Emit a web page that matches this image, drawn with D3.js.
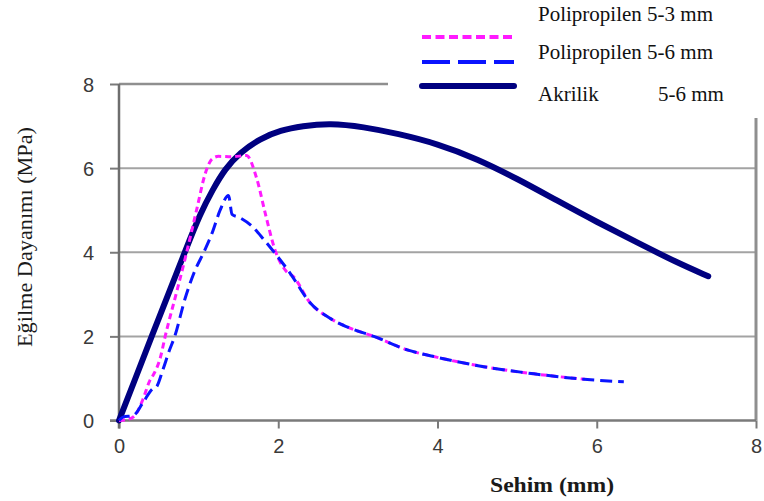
<!DOCTYPE html>
<html>
<head>
<meta charset="utf-8">
<script src="https://cdn.jsdelivr.net/npm/d3@7"></script>
<style>
  html, body { margin: 0; padding: 0; background: #fff; }
  svg { display: block; }
</style>
</head>
<body>
<svg id="chart" width="764" height="501"></svg>
<script>
// Flexural strength vs. deflection for three fibre-reinforced mixes
const xTicks = [0, 2, 4, 6, 8];
const yTicks = [0, 2, 4, 6, 8];
const xTitle = "Sehim (mm)";
const yTitle = "Eğilme Dayanımı (MPa)";

const seriesNames = ["Polipropilen 5-3 mm", "Polipropilen 5-6 mm", "Akrilik"];

// Polipropilen 5-3 mm  [deflection mm, strength MPa]
const pp53 = [
  [0, 0], [0.1, 0.02], [0.2, 0.12], [0.3, 0.5], [0.39, 0.96], [0.43, 1.08],
  [0.52, 1.5], [0.58, 2.0], [0.73, 3.1], [0.85, 4.0], [0.98, 5.05],
  [1.08, 5.85], [1.17, 6.22], [1.25, 6.28], [1.42, 6.27], [1.6, 6.3],
  [1.73, 5.75], [1.84, 4.9], [1.96, 4.05], [2.1, 3.55], [2.19, 3.42],
  [2.4, 2.8], [2.65, 2.43], [2.91, 2.19], [3.2, 2.0], [3.62, 1.68],
  [4.0, 1.5], [4.58, 1.28], [5.21, 1.11], [5.85, 0.98]
];

// Polipropilen 5-6 mm
const pp56 = [
  [0, 0], [0.05, 0.08], [0.18, 0.12], [0.3, 0.42], [0.42, 0.75], [0.47, 0.8],
  [0.55, 1.2], [0.63, 1.65], [0.7, 2.0], [0.83, 2.9], [0.94, 3.5],
  [1.08, 4.06], [1.17, 4.46], [1.27, 5.0], [1.375, 5.35], [1.42, 4.9],
  [1.52, 4.82], [1.67, 4.62], [1.82, 4.3], [1.94, 4.02], [2.15, 3.5],
  [2.4, 2.8], [2.65, 2.43], [2.91, 2.19], [3.2, 2.0], [3.62, 1.68],
  [4.0, 1.5], [4.58, 1.28], [5.21, 1.11], [5.84, 0.98], [6.34, 0.92]
];

// Akrilik 5-6 mm
const akrilik = [
  [0, 0], [0.2, 0.97], [0.41, 2.0], [0.66, 3.2], [0.83, 4.02], [1.02, 4.92],
  [1.18, 5.5], [1.33, 5.98], [1.52, 6.37], [1.77, 6.7], [2.03, 6.9],
  [2.3, 7.0], [2.65, 7.07], [3.07, 6.98], [3.5, 6.82], [4.0, 6.58],
  [4.5, 6.22], [5.0, 5.75], [5.5, 5.23], [6.0, 4.72], [6.5, 4.24],
  [7.0, 3.76], [7.4, 3.43]
];

const svg = d3.select("#chart");

const x = d3.scaleLinear().domain([0, 8]).range([119, 756]);
const y = d3.scaleLinear().domain([0, 8]).range([420.5, 84]);

// horizontal gridlines
svg.append("g")
  .selectAll("line")
  .data([2, 4, 6])
  .join("line")
  .attr("x1", x(0)).attr("x2", x(8))
  .attr("y1", d => y(d)).attr("y2", d => y(d))
  .attr("stroke", "#a3a3a3").attr("stroke-width", 2);

// top frame (partly hidden behind the legend) and right frame
svg.append("line")
  .attr("x1", x(0)).attr("x2", 388)
  .attr("y1", y(8)).attr("y2", y(8))
  .attr("stroke", "#8f8f8f").attr("stroke-width", 2.5);
svg.append("line")
  .attr("x1", x(8)).attr("x2", x(8))
  .attr("y1", 118).attr("y2", y(0))
  .attr("stroke", "#8f8f8f").attr("stroke-width", 3);

// axes
const xAxis = d3.axisBottom(x).tickValues(xTicks).tickSize(8).tickPadding(10).tickFormat(d3.format("d"));
const yAxis = d3.axisLeft(y).tickValues(yTicks).tickSize(9).tickPadding(16).tickFormat(d3.format("d"));

const gx = svg.append("g").attr("transform", `translate(0,${y(0)})`).call(xAxis);
const gy = svg.append("g").attr("transform", `translate(${x(0)},0)`).call(yAxis);

[gx, gy].forEach(g => {
  g.select(".domain").remove();
  g.selectAll(".tick line").attr("stroke", "#7a7a7a").attr("stroke-width", 2);
  g.selectAll(".tick text")
    .attr("fill", "#3a3a3a")
    .style("font-family", "'Liberation Sans', Arial, sans-serif")
    .style("font-size", "20px");
});
gy.selectAll(".tick text").attr("dy", "0.36em");

// axis lines
svg.append("line")
  .attr("x1", 110).attr("x2", x(8))
  .attr("y1", y(0)).attr("y2", y(0))
  .attr("stroke", "#7a7a7a").attr("stroke-width", 2.5);
svg.append("line")
  .attr("x1", x(0)).attr("x2", x(0))
  .attr("y1", y(8)).attr("y2", y(0) + 8)
  .attr("stroke", "#6e6e6e").attr("stroke-width", 2.5);

// curves
const line = d3.line()
  .x(d => x(d[0]))
  .y(d => y(d[1]))
  .curve(d3.curveMonotoneX);

const smoothLine = d3.line()
  .x(d => x(d[0]))
  .y(d => y(d[1]))
  .curve(d3.curveBasis);

svg.append("path").datum(akrilik)
  .attr("d", smoothLine)
  .attr("fill", "none")
  .attr("stroke", "#000080")
  .attr("stroke-width", 6)
  .attr("stroke-linecap", "round")
  .attr("stroke-linejoin", "round");

svg.append("path").datum(pp53)
  .attr("d", line)
  .attr("fill", "none")
  .attr("stroke", "#ff1aff")
  .attr("stroke-width", 3)
  .attr("stroke-dasharray", "6,4");

svg.append("path").datum(pp56)
  .attr("d", line)
  .attr("fill", "none")
  .attr("stroke", "#0a14ff")
  .attr("stroke-width", 3)
  .attr("stroke-dasharray", "12,6");

// axis titles
svg.append("text")
  .attr("x", 552).attr("y", 492)
  .attr("text-anchor", "middle")
  .attr("textLength", 124)
  .attr("lengthAdjust", "spacingAndGlyphs")
  .style("font-family", "'Liberation Serif', 'Times New Roman', serif")
  .style("font-size", "22px")
  .style("font-weight", "bold")
  .attr("fill", "#1a1a1a")
  .text(xTitle);

svg.append("text")
  .attr("transform", "translate(32,237) rotate(-90)")
  .attr("text-anchor", "middle")
  .attr("textLength", 220)
  .attr("lengthAdjust", "spacingAndGlyphs")
  .style("font-family", "'Liberation Serif', 'Times New Roman', serif")
  .style("font-size", "21px")
  .attr("fill", "#1a1a1a")
  .text(yTitle);

// legend
const legendKeys = [
  { y: 37, color: "#ff1aff", width: 4, dash: "9,4.5" },
  { y: 62, color: "#0a14ff", width: 4, dash: "28,8" },
  { y: 86, color: "#000080", width: 6, dash: null }
];
const legend = svg.append("g");
legend.selectAll("line")
  .data(legendKeys)
  .join("line")
  .attr("x1", 422).attr("x2", 514)
  .attr("y1", d => d.y).attr("y2", d => d.y)
  .attr("stroke", d => d.color)
  .attr("stroke-width", d => d.width)
  .attr("stroke-linecap", d => d.dash ? "butt" : "round")
  .attr("stroke-dasharray", d => d.dash);

const legendLabels = [
  { x: 538, y: 21, t: seriesNames[0] },
  { x: 538, y: 59, t: seriesNames[1] },
  { x: 538, y: 101, t: seriesNames[2] },
  { x: 658, y: 101, t: "5-6 mm" }
];
legend.selectAll("text")
  .data(legendLabels)
  .join("text")
  .attr("x", d => d.x).attr("y", d => d.y)
  .style("font-family", "'Liberation Serif', 'Times New Roman', serif")
  .style("font-size", "21px")
  .attr("fill", "#111")
  .text(d => d.t);
</script>
</body>
</html>
